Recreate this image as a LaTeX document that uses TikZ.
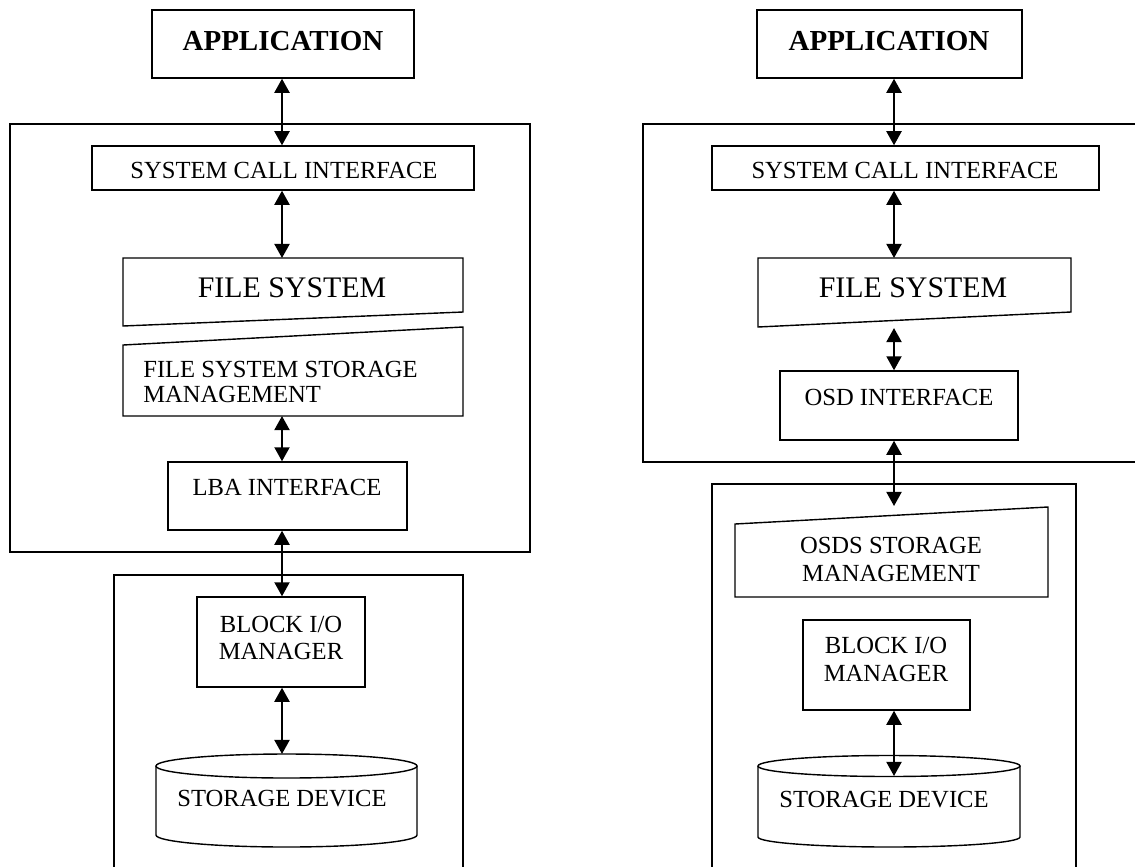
\documentclass[tikz,border=0pt]{standalone}
\usepackage{fontspec}
\setmainfont{Liberation Serif}
\usetikzlibrary{arrows.meta,fit}
\newcommand\twolines[3][c]{\begin{tabular}[t]{@{}#1@{}}#2\\#3\end{tabular}}
\begin{document}
\begin{tikzpicture}[x=0.02cm,y=-0.02cm,
  box/.style={draw,line width=0.8pt,inner sep=0pt},
  layer/.style={draw,line width=0.8pt},
  link/.style={line width=1.3pt,
    {Triangle[width=8.5pt,length=8pt]}-{Triangle[width=8.5pt,length=8pt]}},
  lbl/.style={anchor=base,inner sep=0pt,font=\fontsize{14}{16}\selectfont},
  lblw/.style={anchor=base west,inner sep=0pt,font=\fontsize{14}{14.4}\selectfont},
  big/.style={anchor=base,inner sep=0pt,font=\fontsize{17}{20}\selectfont},
  head/.style={anchor=base,inner sep=0pt,font=\fontsize{16.5}{20}\selectfont\bfseries}]
\useasboundingbox (0,0) rectangle (1135,866);
\clip (0,0) rectangle (1135,866);

% ---------------- block-based stack (left) ----------------
\coordinate (colL) at (282,0);
\node[box,fit={(152,10)(414,78)}] (appL) {};
\node[head] at (283,50) {APPLICATION};

\node[box,fit={(10,124)(530,552)}] (kernL) {};

\node[box,fit={(92,146)(474,190)}] (sciL) {};
\node[lbl] at (284,178) {SYSTEM CALL INTERFACE};

\draw[layer] (123,258) -- (463,258) -- (463,312) -- (123,326) -- cycle;
\coordinate (fsLtop) at (282,258);
\node[big] at (292,297) {FILE SYSTEM};

\draw[layer] (123,345) -- (463,327) -- (463,416) -- (123,416) -- cycle;
\coordinate (fssmLbot) at (282,416);
\node[lblw] at (143,377) {\twolines[l]{FILE SYSTEM STORAGE}{MANAGEMENT}};

\node[box,fit={(168,462)(407,530)}] (lba) {};
\node[lbl] at (287,495) {LBA INTERFACE};

\node[box,fit={(114,575)(463,900)}] (devL) {};

\node[box,fit={(197,597)(365,687)}] (blkL) {};
\node[lbl,font=\fontsize{14}{15.9}\selectfont] at (281,632) {\twolines{BLOCK I/O}{MANAGER}};

% storage device cylinder
\draw[layer] (286.5,766) ellipse [x radius=130.5, y radius=12];
\draw[layer] (156,766) -- (156,835)
  .. controls (156,841.6) and (214.4,847) .. (286.5,847)
  .. controls (358.6,847) and (417,841.6) .. (417,835) -- (417,766);
\coordinate (cylLtop) at (282,754);
\node[lbl] at (282,806) {STORAGE DEVICE};

\draw[link] (appL.south -| colL) -- (sciL.north -| colL);
\draw[link] (sciL.south -| colL) -- (fsLtop);
\draw[link] (fssmLbot) -- (lba.north -| colL);
\draw[link] (lba.south -| colL) -- (blkL.north -| colL);
\draw[link] (blkL.south -| colL) -- (cylLtop);

% ---------------- object-based stack (right) ----------------
\coordinate (colR) at (894,0);
\node[box,fit={(757,10)(1022,78)}] (appR) {};
\node[head] at (889,50) {APPLICATION};

\node[box,fit={(643,124)(1150,462)}] (kernR) {};

\node[box,fit={(712,146)(1099,190)}] (sciR) {};
\node[lbl] at (905,178) {SYSTEM CALL INTERFACE};

\draw[layer] (758,258) -- (1071,258) -- (1071,312) -- (758,327) -- cycle;
\coordinate (fsRtop) at (894,258);
\coordinate (fsRbot) at (894,328);
\node[big] at (913,297) {FILE SYSTEM};

\node[box,fit={(780,371)(1018,440)}] (osd) {};
\node[lbl] at (899,405) {OSD INTERFACE};

\node[box,fit={(712,484)(1076,900)}] (devR) {};

\draw[layer] (735,524) -- (1048,507) -- (1048,597) -- (735,597) -- cycle;
\coordinate (osdsRtop) at (894,506);
\node[lbl,font=\fontsize{14}{16.4}\selectfont] at (891,553) {\twolines{OSDS STORAGE}{MANAGEMENT}};

\node[box,fit={(803,620)(970,710)}] (blkR) {};
\node[lbl,font=\fontsize{14}{16.4}\selectfont] at (886,653) {\twolines{BLOCK I/O}{MANAGER}};

\draw[layer] (889,766) ellipse [x radius=131, y radius=10.5];
\draw[layer] (758,766) -- (758,837)
  .. controls (758,842.5) and (816.7,847) .. (889,847)
  .. controls (961.3,847) and (1020,842.5) .. (1020,837) -- (1020,766);
\coordinate (cylRfront) at (894,776);
\node[lbl] at (884,807) {STORAGE DEVICE};

\draw[link] (appR.south -| colR) -- (sciR.north -| colR);
\draw[link] (sciR.south -| colR) -- (fsRtop);
\draw[link] (fsRbot) -- (osd.north -| colR);
\draw[link] (osd.south -| colR) -- (osdsRtop);
\draw[link] (blkR.south -| colR) -- (cylRfront);
\end{tikzpicture}
\end{document}
